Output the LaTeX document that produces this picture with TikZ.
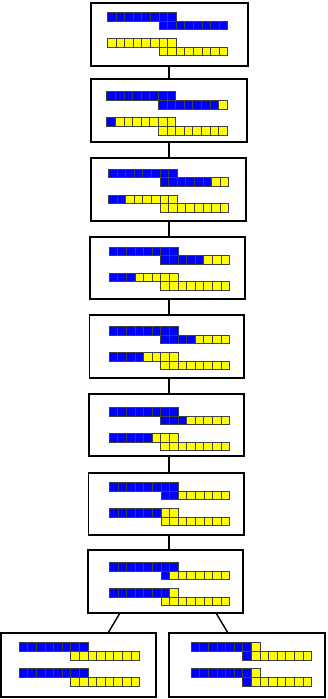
\documentclass[tikz,border=0pt]{standalone}
\usepackage{tikz}
\definecolor{cblue}{RGB}{0,0,255}
\definecolor{cyel}{RGB}{255,255,0}
\tikzset{
  cellsty/.style={draw=black!75, line width=0.6pt},
  boxsty/.style={draw=black, line width=1.7pt, fill=white, inner sep=0pt, outer sep=0pt, rectangle},
  conn/.style={draw=black, line width=1.4pt}
}
\newcommand\cellrow[3]{%
  \foreach \i in {0,...,7}{%
    \ifnum\i<#3\relax\def\cc{cblue}\else\def\cc{cyel}\fi
    \filldraw[cellsty, fill=\cc] ({#1+\i*8.6},{#2}) rectangle ++(8.6,8.6);
  }%
}
% x y n(A1) n(A2) n(B1) n(B2)
\newcommand\stairs[6]{%
  \cellrow{#1}{#2}{#3}
  \cellrow{#1+51.6}{#2+8.6}{#4}
  \cellrow{#1}{#2+26}{#5}
  \cellrow{#1+51.6}{#2+34.6}{#6}
}
% name left right top bottom
\newcommand\boxat[5]{%
  \pgfmathsetmacro\bw{#3-#2}\pgfmathsetmacro\bh{#5-#4}%
  \node[boxsty, anchor=north west, minimum width=\bw pt, minimum height=\bh pt] (#1) at (#2,#4) {};
}
\begin{document}
\begin{tikzpicture}[x=1pt,y=-1pt]
\useasboundingbox (0,0) rectangle (327,699);
\boxat{b1}{91}{248}{2.7}{65.7}
\boxat{b2}{91}{247}{79.3}{142}
\boxat{b3}{91}{246}{158.3}{221}
\boxat{b4}{90}{245}{237}{299}
\boxat{b5}{89.5}{244}{315.3}{378}
\boxat{b6}{89}{244}{394}{456}
\boxat{b7}{88.5}{244}{473}{535}
\boxat{b8}{88}{243}{550}{613}
\boxat{b9}{1}{156}{633}{697}
\boxat{b10}{169}{325}{633}{697}
\stairs{107.3}{12.3}{8}{8}{0}{0}
\stairs{106.7}{91.7}{8}{7}{1}{0}
\stairs{108.3}{169}{8}{6}{2}{0}
\stairs{109}{247}{8}{5}{3}{0}
\stairs{109}{326.3}{8}{4}{4}{0}
\stairs{109}{407.3}{8}{3}{5}{0}
\stairs{109.3}{482.3}{8}{2}{6}{0}
\stairs{109.3}{562.3}{8}{1}{7}{0}
\stairs{19}{642.7}{8}{0}{8}{0}
\stairs{191}{642.7}{7}{1}{7}{1}
\coordinate (cx) at (169,0);
\coordinate (l1) at (120,0);
\coordinate (l2) at (108,0);
\coordinate (r1) at (216,0);
\coordinate (r2) at (228,0);
\draw[conn] (b1.south -| cx) -- (b2.north -| cx);
\draw[conn] (b2.south -| cx) -- (b3.north -| cx);
\draw[conn] (b3.south -| cx) -- (b4.north -| cx);
\draw[conn] (b4.south -| cx) -- (b5.north -| cx);
\draw[conn] (b5.south -| cx) -- (b6.north -| cx);
\draw[conn] (b6.south -| cx) -- (b7.north -| cx);
\draw[conn] (b7.south -| cx) -- (b8.north -| cx);
\draw[conn] (b8.south -| l1) -- (b9.north -| l2);
\draw[conn] (b8.south -| r1) -- (b10.north -| r2);
\end{tikzpicture}
\end{document}
